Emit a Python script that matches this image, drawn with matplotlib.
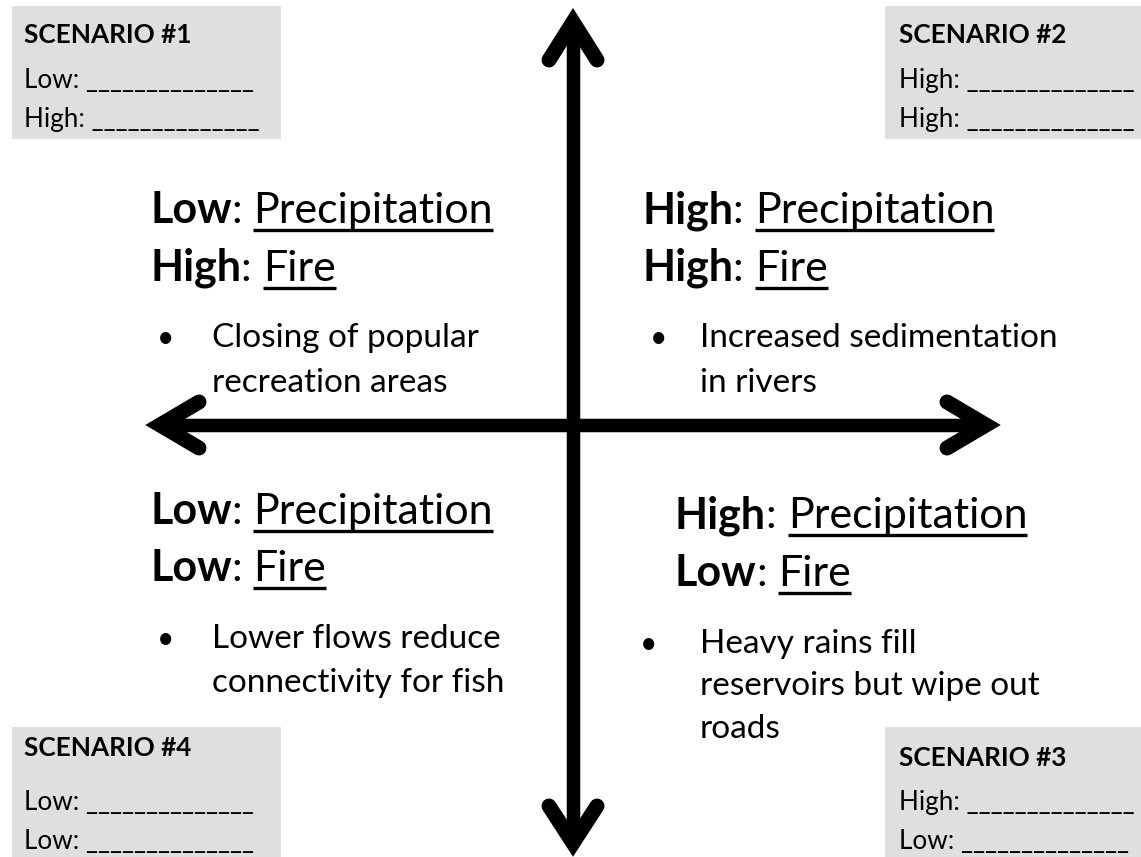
import matplotlib
matplotlib.use('Agg')
import matplotlib.pyplot as plt
from matplotlib.patches import Rectangle

# ---------------- data ----------------
scenario_titles = ['SCENARIO #1', 'SCENARIO #2', 'SCENARIO #3', 'SCENARIO #4']
scenario_first = ['Low', 'High', 'High', 'Low']     # precipitation slot
scenario_second = ['High', 'High', 'Low', 'Low']    # fire slot
blank = '______________'

quad_precip = ['Low', 'High', 'Low', 'High']        # TL, TR, BL, BR
quad_fire = ['High', 'High', 'Low', 'Low']
quad_impacts = [
    ['Closing of popular', 'recreation areas'],
    ['Increased sedimentation', 'in rivers'],
    ['Lower flows reduce', 'connectivity for fish'],
    ['Heavy rains fill', 'reservoirs but wipe out', 'roads'],
]
var1 = 'Precipitation'
var2 = 'Fire'

# ---------------- layout (pixels) ----------------
W, H = 1141, 857
FONT = ['Lato', 'DejaVu Sans']
BOX_GRAY = '#dfdfdf'

fig = plt.figure(figsize=(W / 100, H / 100), dpi=100)
ax = fig.add_axes([0, 0, 1, 1])
ax.set_xlim(0, W)
ax.set_ylim(H, 0)
ax.axis('off')
renderer = fig.canvas.get_renderer()
inv = ax.transData.inverted()


def draw_runs(x, y, parts, size):
    """parts: list of (text, weight, underline)."""
    for txt, weight, ul in parts:
        t = ax.text(x, y, txt, fontsize=size, fontweight=weight, family=FONT,
                    va='baseline', ha='left', color='black')
        bb = t.get_window_extent(renderer)
        x1 = inv.transform((bb.x1, bb.y0))[0]
        if ul:
            ax.plot([x, x1], [y + 7, y + 7], color='black', lw=2.4,
                    solid_capstyle='butt')
        x = x1
    return x


# ---------- scenario boxes ----------
BOX_SIZE = 18.8
boxes = [  # x0, y0, x1, y1, text x, baselines
    (12, 6, 281, 139, 24, (43, 88, 127)),
    (885, 6, 1141, 139, 899, (43, 88, 127)),
    (885, 727, 1141, 857, 899, (766, 810, 849)),
    (12, 727, 281, 857, 24, (756, 810, 849)),
]
for i, (x0, y0, x1, y1, tx, bl) in enumerate(boxes):
    ax.add_patch(Rectangle((x0, y0), x1 - x0, y1 - y0, facecolor=BOX_GRAY,
                           edgecolor='none', zorder=0))
    ax.text(tx, bl[0], scenario_titles[i], fontsize=BOX_SIZE, fontweight='bold',
            family=FONT, va='baseline', ha='left')
    ax.text(tx, bl[1], f'{scenario_first[i]}: {blank}', fontsize=BOX_SIZE,
            family=FONT, va='baseline', ha='left')
    ax.text(tx, bl[2], f'{scenario_second[i]}: {blank}', fontsize=BOX_SIZE,
            family=FONT, va='baseline', ha='left')

# ---------- quadrant text ----------
HEAD_SIZE = 31
BODY_SIZE = 24
quads = [  # heading x, heading baselines, bullet x, body x, body baselines
    (150, (223, 281), 157, 212, (347, 392)),
    (642, (223, 281), 650, 700, (347, 392)),
    (150, (524, 581), 157, 212, (648, 692)),
    (675, (528, 586), 640, 700, (653, 695, 738)),
]
for i, (hx, hb, bx, tx, tb) in enumerate(quads):
    draw_runs(hx, hb[0], [(quad_precip[i], 'bold', False), (': ', 'normal', False),
                          (var1, 'normal', True)], HEAD_SIZE)
    draw_runs(hx, hb[1], [(quad_fire[i], 'bold', False), (': ', 'normal', False),
                          (var2, 'normal', True)], HEAD_SIZE)
    ax.text(bx, tb[0], '\u2022', fontsize=BODY_SIZE * 0.9, family=FONT,
            va='baseline', ha='left')
    for line, yb in zip(quad_impacts[i], tb):
        ax.text(tx, yb, line, fontsize=BODY_SIZE, family=FONT,
                va='baseline', ha='left')

# ---------- axes arrows ----------
SHAFT_LW = 13.5 * 0.72
ARM_LW = 15 * 0.72
cx, cy = 573, 425
# shafts
ax.plot([cx, cx], [22, 843], color='black', lw=SHAFT_LW, solid_capstyle='butt')
ax.plot([160, 986], [cy, cy], color='black', lw=SHAFT_LW, solid_capstyle='butt')


def chevron(pts):
    xs = [p[0] for p in pts]
    ys = [p[1] for p in pts]
    ax.plot(xs, ys, color='black', lw=ARM_LW, solid_capstyle='round',
            solid_joinstyle='miter')


chevron([(549, 60), (cx, 22), (597, 60)])     # up
chevron([(549, 806), (cx, 843), (597, 806)])  # down
chevron([(199, 402), (160, cy), (199, 448)])  # left
chevron([(947, 402), (986, cy), (947, 448)])  # right

fig.savefig('out.png', dpi=100, facecolor='white')
